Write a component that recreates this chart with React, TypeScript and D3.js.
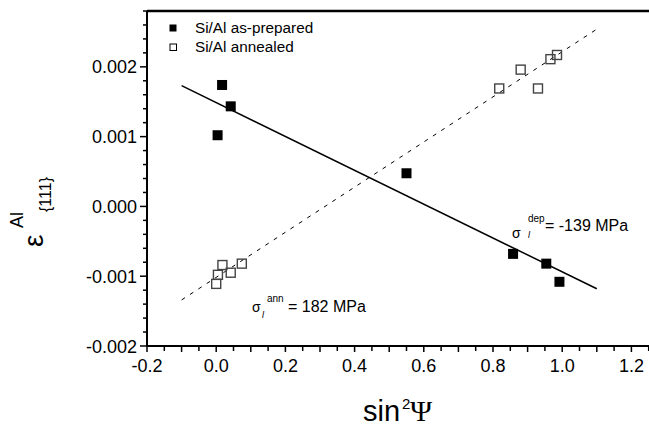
import React from "react";
import * as d3 from "d3";

const preparedX = [0.004, 0.017, 0.042, 0.55, 0.858, 0.954, 0.992];
const preparedY = [0.00102, 0.00174, 0.001434, 0.000475, -0.00068, -0.00082, -0.00108];
const annealedX = [0.0, 0.005, 0.018, 0.042, 0.074, 0.818, 0.88, 0.93, 0.966, 0.985];
const annealedY = [-0.00111, -0.00098, -0.00084, -0.00095, -0.00082, 0.00169, 0.00196, 0.00169, 0.00211, 0.00217];
const fitPreparedX = [-0.1, 1.1];
const fitPreparedY = [0.00173, -0.00118];
const fitAnnealedX = [-0.1, 1.1];
const fitAnnealedY = [-0.00134, 0.00254];
const xTicks = [-0.2, 0.0, 0.2, 0.4, 0.6, 0.8, 1.0, 1.2];
const yTicks = [-0.002, -0.001, 0.0, 0.001, 0.002];
const legendLabels = ["Si/Al as-prepared", "Si/Al annealed"];

const W = 649, H = 426;
const L = 147, R = 666, T = 11, B = 346;

const fmt = (f: string) => (v: number) => d3.format(f)(v).replace("\u2212", "-");

export default function App() {
  const x = d3.scaleLinear().domain([-0.2, 1.3]).range([L, R]);
  const y = d3.scaleLinear().domain([-0.002, 0.0028]).range([B, T]);
  const xMinor = d3.range(-0.2, 1.3001, 0.05);
  const yMinor = d3.range(-0.002, 0.00281, 0.0002);
  const line = d3.line<[number, number]>().x(d => x(d[0])).y(d => y(d[1]));
  const font = "'Liberation Sans', Arial, sans-serif";
  const ms = 10;
  return (
    <svg width={W} height={H} style={{ position: "absolute", left: 0, top: 0, background: "#fff" }} fontFamily={font}>
      <rect width={W} height={H} fill="#fff" />
      {/* frame */}
      <line x1={L} x2={R} y1={T} y2={T} stroke="#000" strokeWidth={2.5} />
      <line x1={L} x2={L} y1={T} y2={B} stroke="#000" strokeWidth={2} />
      <line x1={L} x2={R} y1={B} y2={B} stroke="#000" strokeWidth={2} />
      {/* x ticks */}
      {xMinor.map((v, i) => (
        <line key={"xm" + i} x1={x(v)} x2={x(v)} y1={B} y2={B + (i % 2 === 0 ? 6 : 5)} stroke="#000" strokeWidth={1.5} />
      ))}
      {xTicks.map((v, i) => (
        <text key={"xt" + i} x={x(v)} y={372} textAnchor="middle" fontSize={18}>{fmt(".1f")(v)}</text>
      ))}
      {/* y ticks */}
      {yMinor.map((v, i) => (
        <line key={"ym" + i} x1={L - (i % 5 === 0 ? 7 : 4)} x2={L} y1={y(v)} y2={y(v)} stroke="#000" strokeWidth={1.5} />
      ))}
      {yTicks.map((v, i) => (
        <text key={"yt" + i} x={137} y={y(v) + 6.5} textAnchor="end" fontSize={18}>{fmt(".3f")(v)}</text>
      ))}
      {/* fit lines */}
      <path d={line(fitPreparedX.map((v, i) => [v, fitPreparedY[i]]) as any) || ""} stroke="#000" strokeWidth={1.5} fill="none" />
      <path d={line(fitAnnealedX.map((v, i) => [v, fitAnnealedY[i]]) as any) || ""} stroke="#000" strokeWidth={1} strokeDasharray="4,6" fill="none" />
      {/* data */}
      {preparedX.map((v, i) => (
        <rect key={"p" + i} x={x(v) - ms / 2} y={y(preparedY[i]) - ms / 2} width={ms} height={ms} fill="#000" />
      ))}
      {annealedX.map((v, i) => (
        <rect key={"a" + i} x={x(v) - ms / 2 + 0.5} y={y(annealedY[i]) - ms / 2 + 0.5} width={ms - 1} height={ms - 1} fill="none" stroke="#444" strokeWidth={1.4} />
      ))}
      {/* legend */}
      <rect x={169.5} y={24.5} width={7} height={7} fill="#000" />
      <rect x={170} y={44} width={6.5} height={6.5} fill="none" stroke="#000" strokeWidth={1} />
      <text x={195} y={33} fontSize={15.3}>{legendLabels[0]}</text>
      <text x={195} y={52} fontSize={15.3}>{legendLabels[1]}</text>
      {/* annotations */}
      <text x={252} y={312} fontSize={14}>σ</text>
      <text x={267} y={302} fontSize={10}>ann</text>
      <text x={262} y={318} fontSize={9} fontStyle="italic">l</text>
      <text x={288} y={312} fontSize={16}>= 182 MPa</text>
      <text x={512} y={237.5} fontSize={14}>σ</text>
      <text x={528} y={222} fontSize={10}>dep</text>
      <text x={528} y={238} fontSize={9} fontStyle="italic">l</text>
      <text x={545} y={230.5} fontSize={16}>= -139 MPa</text>
      {/* x label */}
      <text x={363} y={421} fontSize={29}>sin</text>
      <text x={402} y={409} fontSize={15}>2</text>
      <text x={410} y={421} fontSize={30} fontFamily="'Liberation Serif', 'Times New Roman', serif">Ψ</text>
      {/* y label */}
      <g transform="translate(43,247) rotate(-90)">
        <text x={0} y={0} fontSize={28}>ε</text>
        <text x={19} y={-20} fontSize={18}>Al</text>
        <text x={35} y={8} fontSize={16}>{"{111}"}</text>
      </g>
    </svg>
  );
}
